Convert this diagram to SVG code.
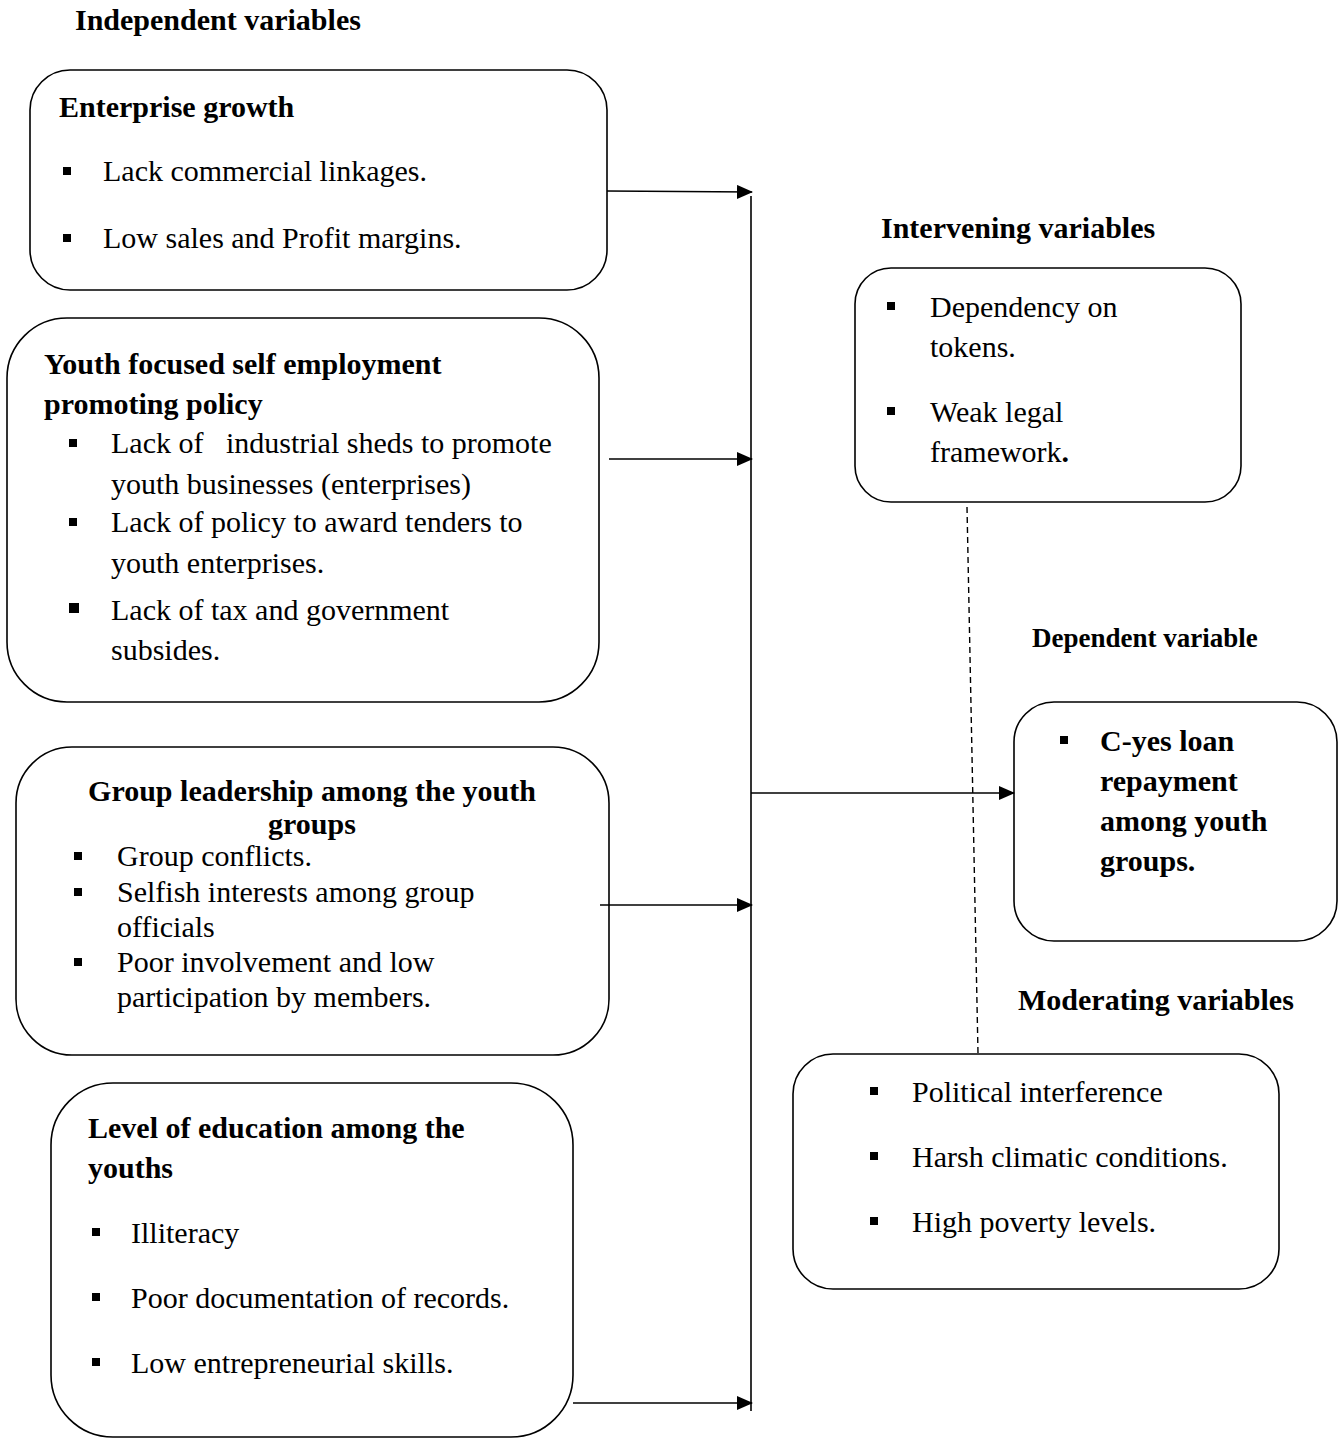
<svg xmlns="http://www.w3.org/2000/svg" width="1343" height="1439" viewBox="0 0 1343 1439">
<style>
  text { font-family: "Liberation Serif", "Times New Roman", serif; font-size: 30px; fill: #000; }
  .b { font-weight: bold; }
  .box { fill: #fff; stroke: #000; stroke-width: 1.6; }
  .bul { fill: #000; }
  .con { stroke: #000; stroke-width: 1.6; fill: none; }
  .dash { stroke: #000; stroke-width: 1.4; fill: none; stroke-dasharray: 6 4; }
</style>
<defs>
  <marker id="arr" markerWidth="16" markerHeight="14" refX="15" refY="7" orient="auto" markerUnits="userSpaceOnUse">
    <path d="M0,0 L16,7 L0,14 Z" fill="#000"/>
  </marker>
</defs>
<rect width="1343" height="1439" fill="#fff"/>

<g id="labels">
  <text class="b" x="75" y="30">Independent variables</text>
  <text class="b" x="881" y="238">Intervening variables</text>
  <text class="b" x="1032" y="647" style="font-size:27px">Dependent variable</text>
  <text class="b" x="1018" y="1010">Moderating variables</text>
</g>

<g id="enterprise-growth">
  <rect class="box" x="30" y="70" width="577" height="220" rx="40" ry="40"/>
  <text class="b" x="59" y="117">Enterprise growth</text>
  <rect class="bul" x="63" y="167" width="8" height="8"/>
  <text x="103" y="181">Lack commercial linkages.</text>
  <rect class="bul" x="63" y="234" width="8" height="8"/>
  <text x="103" y="248">Low sales and Profit margins.</text>
</g>

<g id="youth-policy">
  <rect class="box" x="7" y="318" width="592" height="384" rx="60" ry="60"/>
  <text class="b" x="44" y="374">Youth focused self employment</text>
  <text class="b" x="44" y="414">promoting policy</text>
  <rect class="bul" x="69" y="439" width="8" height="8"/>
  <text x="111" y="453" xml:space="preserve">Lack of   industrial sheds to promote</text>
  <text x="111" y="494">youth businesses (enterprises)</text>
  <rect class="bul" x="69" y="518" width="8" height="8"/>
  <text x="111" y="532">Lack of policy to award tenders to</text>
  <text x="111" y="573">youth enterprises.</text>
  <rect class="bul" x="69" y="603" width="10" height="10"/>
  <text x="111" y="620">Lack of tax and government</text>
  <text x="111" y="660">subsides.</text>
</g>

<g id="group-leadership">
  <rect class="box" x="16" y="747" width="593" height="308" rx="56" ry="56"/>
  <text class="b" x="312" y="801" text-anchor="middle">Group leadership among the youth</text>
  <text class="b" x="312" y="834" text-anchor="middle">groups</text>
  <rect class="bul" x="74" y="852" width="8" height="8"/>
  <text x="117" y="866">Group conflicts.</text>
  <rect class="bul" x="74" y="888" width="8" height="8"/>
  <text x="117" y="902">Selfish interests among group</text>
  <text x="117" y="937">officials</text>
  <rect class="bul" x="74" y="958" width="8" height="8"/>
  <text x="117" y="972">Poor involvement and low</text>
  <text x="117" y="1007">participation by members.</text>
</g>

<g id="education">
  <rect class="box" x="51" y="1083" width="522" height="354" rx="62" ry="62"/>
  <text class="b" x="88" y="1138">Level of education among the</text>
  <text class="b" x="88" y="1178">youths</text>
  <rect class="bul" x="92" y="1228" width="8" height="8"/>
  <text x="131" y="1243">Illiteracy</text>
  <rect class="bul" x="92" y="1293" width="8" height="8"/>
  <text x="131" y="1308">Poor documentation of records.</text>
  <rect class="bul" x="92" y="1358" width="8" height="8"/>
  <text x="131" y="1373">Low entrepreneurial skills.</text>
</g>

<g id="intervening">
  <rect class="box" x="855" y="268" width="386" height="234" rx="36" ry="36"/>
  <rect class="bul" x="887" y="302" width="8" height="8"/>
  <text x="930" y="317">Dependency on</text>
  <text x="930" y="357">tokens.</text>
  <rect class="bul" x="887" y="407" width="8" height="8"/>
  <text x="930" y="422">Weak legal</text>
  <text x="930" y="462">framework<tspan class="b">.</tspan></text>
</g>

<g id="dependent">
  <rect class="box" x="1014" y="702" width="323" height="239" rx="40" ry="40"/>
  <rect class="bul" x="1060" y="736" width="8" height="8"/>
  <text class="b" x="1100" y="751">C-yes loan</text>
  <text class="b" x="1100" y="791">repayment</text>
  <text class="b" x="1100" y="831">among youth</text>
  <text class="b" x="1100" y="871">groups.</text>
</g>

<g id="moderating">
  <rect class="box" x="793" y="1054" width="486" height="235" rx="40" ry="40"/>
  <rect class="bul" x="870" y="1087" width="8" height="8"/>
  <text x="912" y="1102">Political interference</text>
  <rect class="bul" x="870" y="1152" width="8" height="8"/>
  <text x="912" y="1167">Harsh climatic conditions.</text>
  <rect class="bul" x="870" y="1217" width="8" height="8"/>
  <text x="912" y="1232">High poverty levels.</text>
</g>

<g id="connectors">
  <line class="con" x1="751" y1="196" x2="751" y2="1411"/>
  <line class="con" x1="607" y1="191" x2="752" y2="192" marker-end="url(#arr)"/>
  <line class="con" x1="609" y1="459" x2="752" y2="459" marker-end="url(#arr)"/>
  <line class="con" x1="600" y1="905" x2="752" y2="905" marker-end="url(#arr)"/>
  <line class="con" x1="573" y1="1403" x2="752" y2="1403" marker-end="url(#arr)"/>
  <line class="con" x1="751" y1="793" x2="1014" y2="793" marker-end="url(#arr)"/>
  <line class="dash" x1="967" y1="507" x2="978" y2="1053"/>
</g>
</svg>
